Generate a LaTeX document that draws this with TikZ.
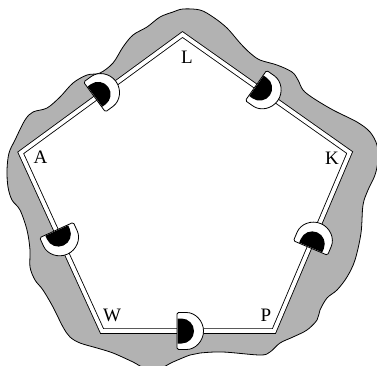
\documentclass[tikz,border=0pt]{standalone}
\usepackage{fontspec}
\setmainfont{Liberation Serif}
\definecolor{bandgray}{gray}{0.7}
\tikzset{
  band/.style={fill=bandgray, draw=black, line width=0.8pt},
  wall/.style={draw=black, fill=white, line width=0.85pt, double=white, double distance=3.8pt, line join=miter},
  lab/.style={inner sep=0pt, font=\fontsize{19}{21}\selectfont},
  cup/.pic={
    \begin{scope}[x=1pt,y=1pt]
      \filldraw[fill=white, draw=black, line width=0.8pt, rounded corners=1.5pt]
        (0,-18.5) -- (8,-18.5) arc[start angle=-90, end angle=90, radius=18.5pt] -- (0,18.5) -- cycle;
      \fill[black] (0.6,-12.5) -- (4.5,-12.5) arc[start angle=-90, end angle=90, radius=12.5pt] -- (0.6,12.5) -- cycle;
    \end{scope}
  }
}
\begin{document}
\begin{tikzpicture}[x=1pt,y=-1pt]
\useasboundingbox (0,0) rectangle (377,365);
\clip (0,0) rectangle (377,365);
% gray band
\draw[band] plot[smooth cycle, tension=0.55] coordinates {
 (183,9) (200,10) (213,17) (227,28) (240,43) (250,53) (260,60) (277,65) (292,72)
 (298,80) (303,90) (313,98) (333,110) (357,122) (370,132) (377,145) (378,160)
 (375,175) (368,190) (363,205) (361,233) (355,260) (347,277) (337,290) (327,298)
 (320,310) (317,320) (307,330) (293,337) (280,343) (270,352) (260,355) (223,352)
 (200,353) (190,355) (173,362) (160,368) (143,367) (133,362) (113,353) (97,348)
 (80,343) (70,337) (63,327) (53,307) (43,290) (35,280) (30,267) (30,250) (27,230)
 (20,210) (12,200) (8,187) (7,170) (9,153) (15,140) (25,120) (33,112) (47,108)
 (60,97) (73,83) (87,75) (100,73) (113,63) (123,47) (133,35) (147,27) (160,17) (173,12)
};
% pentagon corners
\coordinate (L) at (182.5,34.5);
\coordinate (K) at (349.7,152.5);
\coordinate (P) at (274,331);
\coordinate (W) at (102,331);
\coordinate (A) at (20.7,152.8);
\draw[wall] (A) -- (L) -- (K) -- (P) -- (W) -- cycle;
% cups
\pic[rotate=36.2] at (94.5,97) {cup};
\pic[rotate=-35.2] at (256,85.5) {cup};
\pic[rotate=67] at (310.5,248) {cup};
\pic at (177,331) {cup};
\pic[rotate=-65.5] at (56.5,230) {cup};
% labels
\node[lab] (lL) at (187,57) {L};
\node[lab] (lA) at (40.5,157.5) {A};
\node[lab] (lK) at (332,158) {K};
\node[lab] (lW) at (112,315) {W};
\node[lab] (lP) at (266,315) {P};
\end{tikzpicture}
\end{document}
